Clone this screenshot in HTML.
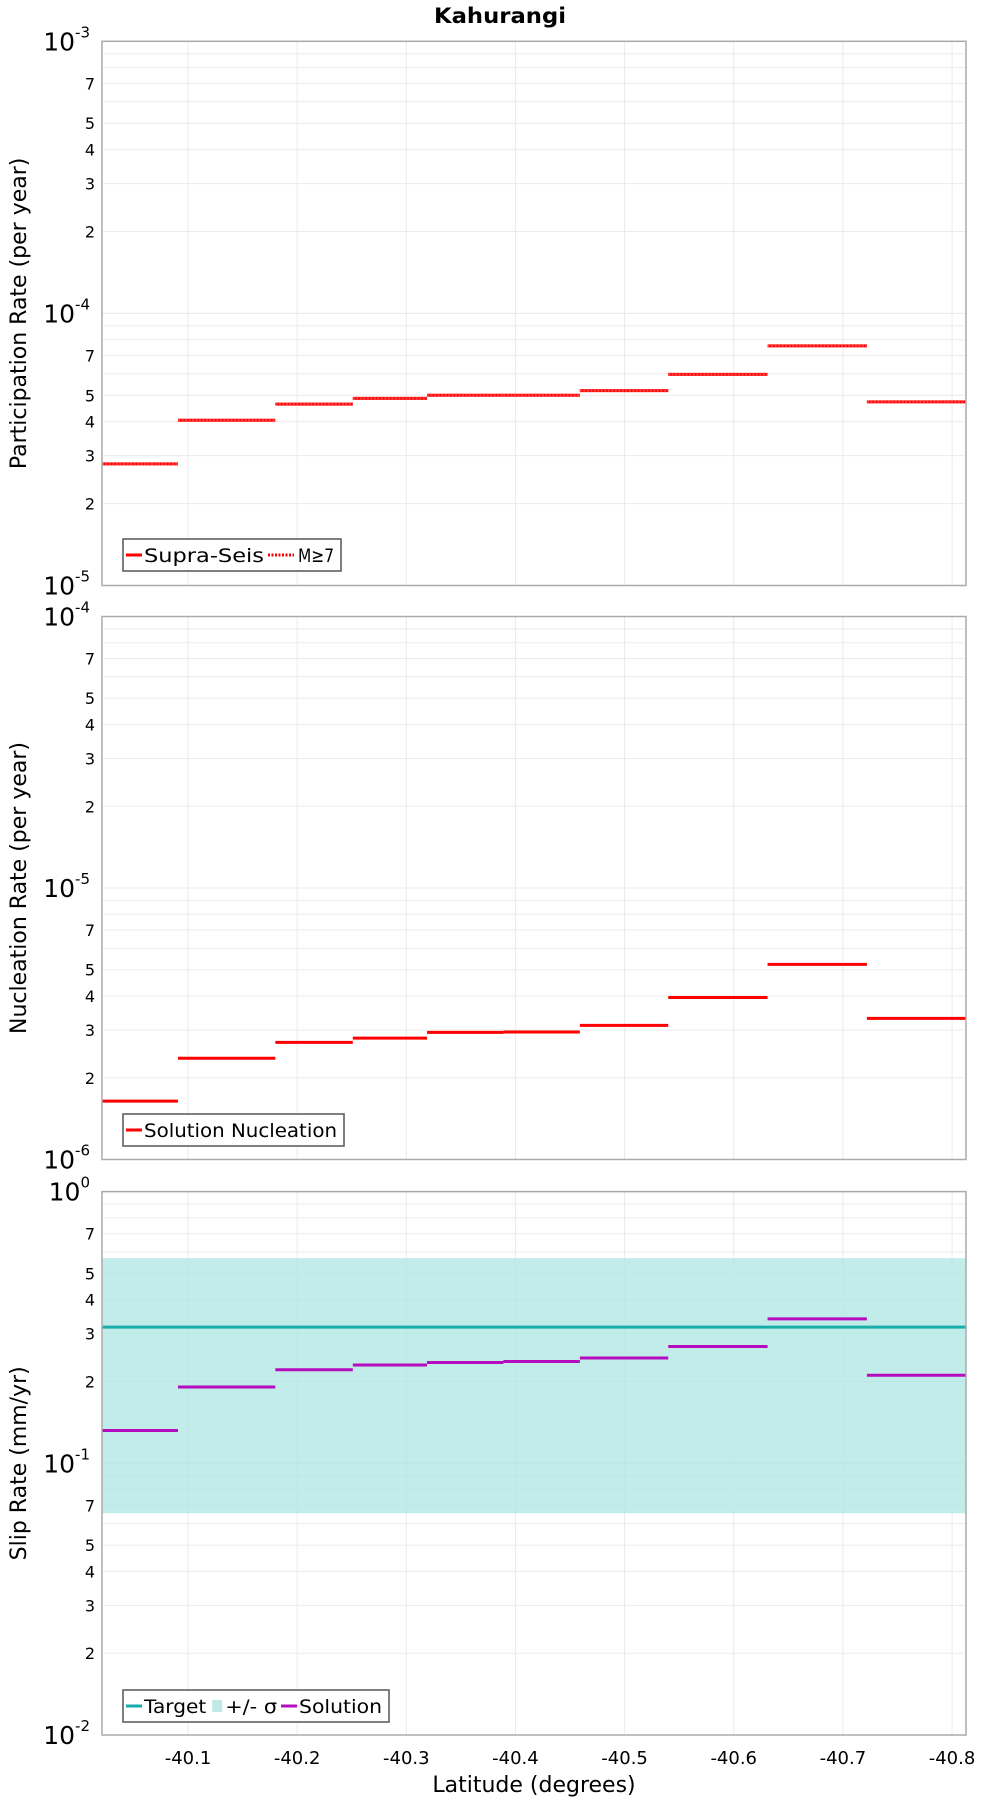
<!DOCTYPE html>
<html><head><meta charset="utf-8">
<style>
body{margin:0;background:#fff;width:1000px;height:1800px;overflow:hidden}
svg{display:block;font-family:"DejaVu Sans","Liberation Sans",sans-serif}
</style></head>
<body>
<svg id="chart" width="1000" height="1800"></svg>
<script>
// Data
const binEdges = [-40.0212, -40.0908, -40.180, -40.251, -40.319, -40.389, -40.459, -40.540, -40.631, -40.722, -40.8128];
const supraSeis = [2.8e-5, 4.05e-5, 4.64e-5, 4.87e-5, 5.0e-5, 5.0e-5, 5.2e-5, 5.97e-5, 7.6e-5, 4.73e-5];
const m7 = [2.8e-5, 4.05e-5, 4.64e-5, 4.87e-5, 5.0e-5, 5.0e-5, 5.2e-5, 5.97e-5, 7.6e-5, 4.73e-5];
const nucleation = [1.64e-6, 2.36e-6, 2.70e-6, 2.80e-6, 2.94e-6, 2.95e-6, 3.12e-6, 3.95e-6, 5.23e-6, 3.31e-6];
const slipSolution = [0.132, 0.191, 0.221, 0.230, 0.235, 0.237, 0.244, 0.269, 0.340, 0.211];
const slipTarget = [0.317];
const slipLow = [0.0655];
const slipHigh = [0.569];
const xTicks = [-40.1, -40.2, -40.3, -40.4, -40.5, -40.6, -40.7, -40.8];

const NS = "http://www.w3.org/2000/svg";
const svg = document.getElementById('chart');
const L = 102, R = 966;
const xDom = [-40.0212, -40.8128];
const xs = v => L + (v - xDom[0]) / (xDom[1] - xDom[0]) * (R - L);

function mk(tag, attrs, parent, text) {
  const e = document.createElementNS(NS, tag);
  for (const k in attrs) e.setAttribute(k, attrs[k]);
  if (text !== undefined) e.textContent = text;
  (parent || svg).appendChild(e);
  return e;
}

const title = mk('text', {x: 500, y: 23, 'text-anchor': 'middle', 'font-size': 21, 'font-weight': 'bold', 'textLength': 132, 'lengthAdjust': 'spacingAndGlyphs'}, svg, 'Kahurangi');



function panel(name, top, bot, minExp, maxExp, ylabel) {
  const g = mk('g', {});
  
  
  const ys = v => bot - (Math.log10(v) - minExp) / (maxExp - minExp) * (bot - top);
  for (let e = minExp; e < maxExp; e++) {
    for (let m = 1; m <= 10; m++) {
      const y = ys(m * Math.pow(10, e));
      mk('line', {x1: L, x2: R, y1: y, y2: y, stroke: '#ebebeb', 'stroke-width': 1}, g);
    }
  }
  xTicks.forEach(t => mk('line', {x1: xs(t), x2: xs(t), y1: top, y2: bot, stroke: '#ebebeb', 'stroke-width': 1}, g));
  for (let e = minExp; e <= maxExp; e++) {
    const y = ys(Math.pow(10, e));
    const t = mk('text', {x: 90, y: y + 9, 'text-anchor': 'end', 'font-size': 25}, g);
    
    
    mk('tspan', {}, t, '10');
    mk('tspan', {dy: -13, 'font-size': 15}, t, String(e));
    if (e < maxExp) {
      [2, 3, 4, 5, 7].forEach(m => {
        const lt = mk('text', {x: 95, y: ys(m * Math.pow(10, e)) + 6, 'text-anchor': 'end', 'font-size': 16}, g, String(m));
        
        
      });
    }
  }
  const yl = mk('text', {x: 0, y: 0, 'text-anchor': 'middle', 'font-size': 22, transform: `translate(26,${(top + bot) / 2}) rotate(-90)`}, g, ylabel);
  
  
  return {g, ys};
}

function steps(p, arr, color, dash, name) {
  arr.forEach((v, i) => {
    const ln = mk('line', {x1: xs(binEdges[i]), x2: xs(binEdges[i + 1]), y1: p.ys(v), y2: p.ys(v), stroke: color, 'stroke-width': 3}, p.g);
    if (dash) ln.setAttribute('stroke-dasharray', dash);
    
    
  });
}

function frame(p, top, bot) {
  mk('rect', {x: L, y: top, width: R - L, height: bot - top, fill: 'none', stroke: '#aaa', 'stroke-width': 1.5}, p.g);
}

function legend(p, x, y, w, items) {
  const lg = mk('g', {}, p.g);
  
  
  mk('rect', {x: x, y: y, width: w, height: 32, fill: '#fff', stroke: '#555', 'stroke-width': 1.5}, lg);
  let cx = x + 3;
  const textW = (w - 6 - items.reduce((s, it) => s + (it.box ? 15 : (it.dash ? 30 : 18)) + 4, 0));
  const totalChars = items.reduce((s, it) => s + it.label.length, 0);
  items.forEach(it => {
    if (it.box) mk('rect', {x: cx + 2, y: y + 10, width: 10, height: 12, fill: it.color}, lg);
    else {
      const l = mk('line', {x1: cx, x2: cx + (it.dash ? 26 : 16), y1: y + 16, y2: y + 16, stroke: it.color, 'stroke-width': 3}, lg);
      if (it.dash) l.setAttribute('stroke-dasharray', it.dash);
    }
    cx += it.box ? 15 : (it.dash ? 30 : 18);
    const tw = textW * it.label.length / totalChars;
    const t = mk('text', {x: cx, y: y + 23, 'font-size': 19, textLength: tw, lengthAdjust: 'spacingAndGlyphs'}, lg, it.label);
    
    
    cx += tw + 4;
  });
}

// Panel 1
const p1 = panel('participation-panel', 41.3, 585.5, -5, -3, 'Participation Rate (per year)');
steps(p1, supraSeis, '#f00', null, 'supra-seis-step');
steps(p1, m7, '#ff3b3b', '2,1.5', 'm7-step');
frame(p1, 41.3, 585.5);
legend(p1, 123, 539, 218, [{color: '#f00', label: 'Supra-Seis'}, {color: '#f00', dash: '2,1.5', label: 'M≥7'}]);

// Panel 2
const p2 = panel('nucleation-panel', 616.5, 1159.5, -6, -4, 'Nucleation Rate (per year)');
steps(p2, nucleation, '#f00', null, 'nucleation-step');
frame(p2, 616.5, 1159.5);
legend(p2, 123, 1114, 221, [{color: '#f00', label: 'Solution Nucleation'}]);

// Panel 3
const p3 = panel('slip-rate-panel', 1191.6, 1735, -2, 0, 'Slip Rate (mm/yr)');
const band = mk('rect', {x: L, y: p3.ys(slipHigh[0]), width: R - L, height: p3.ys(slipLow[0]) - p3.ys(slipHigh[0]), fill: '#aee5e3', opacity: 0.75}, p3.g);


const tl = mk('line', {x1: L, x2: R, y1: p3.ys(slipTarget[0]), y2: p3.ys(slipTarget[0]), stroke: '#16aea8', 'stroke-width': 3}, p3.g);


steps(p3, slipSolution, '#b40cbe', null, 'solution-step');
frame(p3, 1191.6, 1735);
legend(p3, 123, 1690, 266, [{color: '#16aea8', label: 'Target'}, {color: '#bfe9e7', box: true, label: '+/- σ'}, {color: '#b40cbe', label: 'Solution'}]);

// x ticks
xTicks.forEach(t => {
  const e = mk('text', {x: xs(t), y: 1764, 'text-anchor': 'middle', 'font-size': 18}, svg, String(t));
  
  
});
const xl = mk('text', {x: 534, y: 1792, 'text-anchor': 'middle', 'font-size': 22}, svg, 'Latitude (degrees)');


</script>
</body></html>
